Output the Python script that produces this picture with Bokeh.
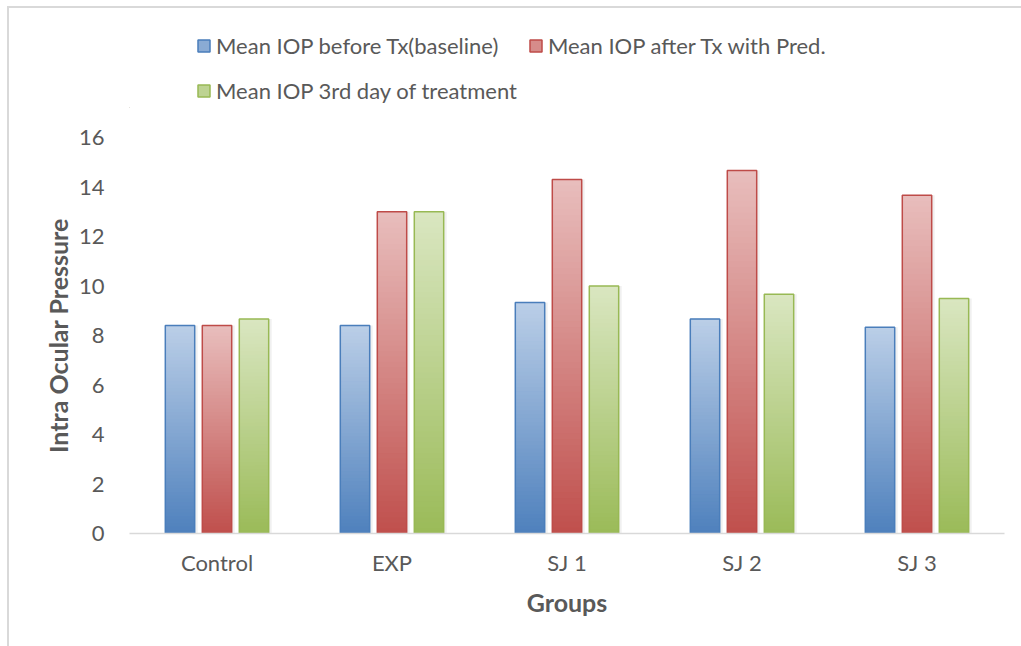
from bokeh.plotting import figure
from bokeh.layouts import column
from bokeh.models import (ColumnDataSource, FactorRange, FixedTicker, Legend,
                          LegendItem)
from bokeh.transform import dodge
from bokeh.embed import file_html
from bokeh.resources import INLINE

# ---- data -------------------------------------------------------------
groups = ["Control", "EXP", "SJ 1", "SJ 2", "SJ 3"]
baseline = [8.4, 8.4, 9.33, 8.67, 8.33]
after_pred = [8.4, 13.0, 14.3, 14.67, 13.67]
day3 = [8.67, 13.0, 10.0, 9.67, 9.5]
y_ticks = [0, 2, 4, 6, 8, 10, 12, 14, 16]

series_names = ["Mean IOP before Tx(baseline)", "Mean IOP after Tx with Pred.",
                "Mean IOP 3rd day of treatment"]
series_values = [baseline, after_pred, day3]
dark_colors = ["#4F81BD", "#C0504D", "#9BBB59"]
light_colors = ["#BACEE7", "#E8BDBC", "#D9E6C0"]
edge_colors = ["#4A7EBB", "#BE4B48", "#98B954"]

TEXT = "#595959"
FONT = "Lato"
N_SLICES = 60
PITCH = 0.2114
BAR_W = 0.168


def hex_to_rgb(h):
    h = h.lstrip("#")
    return tuple(int(h[i:i + 2], 16) for i in (0, 2, 4))


def mix(c0, c1, t):
    a, b = hex_to_rgb(c0), hex_to_rgb(c1)
    return "#%02x%02x%02x" % tuple(round(a[k] + (b[k] - a[k]) * t) for k in range(3))


# ---- main chart ---------------------------------------------------------
p = figure(
    x_range=FactorRange(*groups, range_padding=0),
    y_range=(0, 16),
    width=1012, height=538,
    output_backend="svg", toolbar_location=None,
    min_border_left=120, min_border_right=17,
    min_border_top=29, min_border_bottom=113,
)
p.background_fill_color = "white"
p.border_fill_color = "white"
p.outline_line_color = None
p.xgrid.grid_line_color = None
p.ygrid.grid_line_color = None

for k, vals in enumerate(series_values):
    dark, light, edge = dark_colors[k], light_colors[k], edge_colors[k]
    off = (k - 1) * PITCH
    base_src = ColumnDataSource(dict(x=groups, top=vals))
    # soft drop shadow to the right of each bar
    p.vbar(x=dodge("x", off + 0.012, range=p.x_range), top="top", bottom=0,
           width=BAR_W + 0.01, source=base_src,
           fill_color="#000000", fill_alpha=0.06, line_color=None)
    # vertical gradient: dark at the base, light at the top of each bar
    xs, bots, tops, cols = [], [], [], []
    for g, v in zip(groups, vals):
        for i in range(N_SLICES):
            xs.append(g)
            bots.append(v * i / N_SLICES)
            tops.append(min(v, v * (i + 2) / N_SLICES))
            cols.append(mix(dark, light, i / (N_SLICES - 1)))
    grad_src = ColumnDataSource(dict(x=xs, bottom=bots, top=tops, color=cols))
    p.vbar(x=dodge("x", off, range=p.x_range), top="top", bottom="bottom",
           width=BAR_W, source=grad_src, fill_color="color", line_color=None)
    # outline
    p.vbar(x=dodge("x", off, range=p.x_range), top="top", bottom=0,
           width=BAR_W, source=base_src, fill_color=None,
           line_color=edge, line_width=1.5)

p.yaxis.ticker = FixedTicker(ticks=y_ticks)
p.yaxis.axis_line_color = None
p.yaxis.major_tick_line_color = None
p.yaxis.minor_tick_line_color = None
p.yaxis.major_label_standoff = 19
p.yaxis.axis_label = "Intra Ocular Pressure"
p.yaxis.axis_label_standoff = 3

p.xaxis.axis_line_color = "#D9D9D9"
p.xaxis.axis_line_width = 1.5
p.xaxis.major_tick_line_color = None
p.xaxis.minor_tick_line_color = None
p.xaxis.major_label_standoff = 9
p.xaxis.axis_label = "Groups"
p.xaxis.axis_label_standoff = 8

for ax in (p.xaxis, p.yaxis):
    ax.major_label_text_font = FONT
    ax.major_label_text_font_size = "22px"
    ax.major_label_text_color = TEXT
    ax.axis_label_text_font = FONT
    ax.axis_label_text_font_size = "25px"
    ax.axis_label_text_font_style = "bold"
    ax.axis_label_text_color = TEXT

# ---- legend strip above the chart ---------------------------------------
leg = figure(width=1012, height=100, output_backend="svg", toolbar_location=None,
             x_axis_type=None, y_axis_type=None, min_border=0,
             x_range=(0, 1), y_range=(0, 1))
leg.outline_line_color = None
leg.xgrid.grid_line_color = None
leg.ygrid.grid_line_color = None
items = []
for k, name in enumerate(series_names):
    # swatch renderer: its single bar lies well outside the visible ranges
    swatch = leg.vbar(x=[-5], top=[-4], bottom=[-5], width=0.1,
                      fill_color=mix(dark_colors[k], light_colors[k], 0.55),
                      line_color=edge_colors[k], line_width=1.5)
    items.append(LegendItem(label=name, renderers=[swatch]))

legend = Legend(items=items, ncols=2, orientation="horizontal",
                location=(67, 1), border_line_color=None,
                background_fill_alpha=0, padding=0, margin=0,
                spacing=11, glyph_width=15, glyph_height=15,
                label_standoff=5, label_height=34,
                label_text_font=FONT, label_text_font_size="22px",
                label_text_color=TEXT)
leg.add_layout(legend, "center")

page = column(leg, p, spacing=0,
              styles={"margin-left": "7px", "margin-top": "6px",
                      "border-left": "2px solid #D9D9D9",
                      "border-top": "2px solid #D9D9D9"})

open("out.html", "w").write(file_html(page, INLINE))
